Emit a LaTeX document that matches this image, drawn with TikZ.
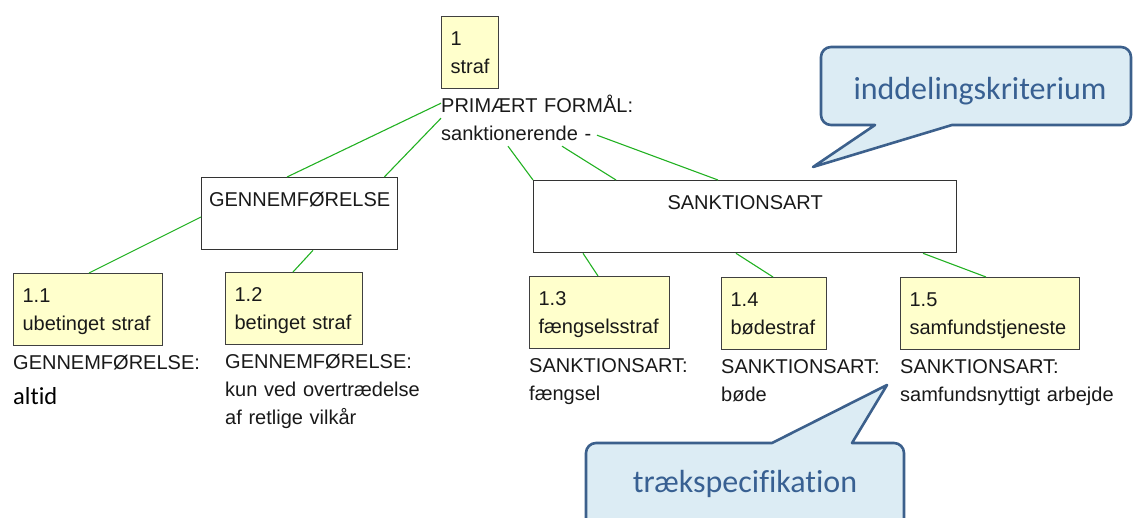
\documentclass[tikz,border=0pt]{standalone}
\usepackage{fontspec}
\setmainfont{Liberation Sans}
\newfontfamily\calib[Ligatures=NoCommon]{Carlito}
\usepackage{tikz}
\usetikzlibrary{positioning}

\definecolor{termfill}{RGB}{255,255,204}
\definecolor{termline}{RGB}{64,64,64}
\definecolor{linkgreen}{RGB}{34,177,34}
\definecolor{notefill}{RGB}{220,236,244}
\definecolor{noteline}{RGB}{60,96,140}
\definecolor{notetext}{RGB}{56,96,146}

\begin{document}
\begin{tikzpicture}[x=1pt,y=-1pt,font=\fontsize{20}{28}\selectfont,
                    every node/.style={text=black!90}]
  \tikzstyle{term}=[draw=termline,fill=termfill,line width=1.2pt,anchor=north west,
                    align=left,inner xsep=9pt,inner ysep=8pt,minimum height=72pt,
                    execute at begin node={\rule{0pt}{21pt}},
                    execute at end node={\rule[-7pt]{0pt}{7pt}}]
  \tikzstyle{group}=[draw=black!80,line width=1.3pt,anchor=north west,
                     inner ysep=9pt,text height=20pt,text depth=34pt]
  \tikzstyle{tag}=[anchor=north west,inner sep=0pt,align=left,text width=250pt,
                   execute at begin node={\rule{0pt}{21pt}}]
  \tikzstyle{link}=[draw=linkgreen,line width=1.1pt]
  \tikzstyle{note}=[draw=noteline,fill=notefill,line width=2.6pt,line join=round]
  \tikzstyle{notetext}=[anchor=base,text=notetext,font=\calib\fontsize{32}{38}\selectfont]

  \useasboundingbox (0,0) rectangle (1134,518);

  \node[term,text width=39pt]  (b1)   at (441,16)  {1\\straf};            % rod
  \node[tag] (prim) [below right=2pt and 0pt of b1.south west] {PRIMÆRT FORMÅL:\\sanktionerende -};
  \node[group,minimum width=196pt] (gen)  at (201,177) {GENNEMFØRELSE};
  \node[group,minimum width=423pt] (sank) at (533,180) {SANKTIONSART};

  \node[term,text width=131pt] (b11)  at (13,273)  {1.1\\ubetinget straf};
  \node[term,text width=119pt] (b12)  at (225,272) {1.2\\betinget straf};
  \node[term,text width=122pt] (b13)  at (529,276) {1.3\\fængselsstraf};
  \node[term,text width=87pt]  (b14)  at (721,277) {1.4\\bødestraf};
  \node[term,text width=161pt] (b15)  at (900,277) {1.5\\samfundstjeneste};

  % trækspecifikationer
  \node[tag] (t11) [below right=2pt and 0pt of b11.south west]
        {GENNEMFØRELSE:\\[7pt]{\calib\fontsize{24.5}{29}\selectfont\color{black} altid}};
  \node[tag] (t12) [below right=2pt and 0pt of b12.south west]
        {GENNEMFØRELSE:\\kun ved overtrædelse\\af retlige vilkår};
  \node[tag] (t13) [below right=2pt and 0pt of b13.south west] {SANKTIONSART:\\fængsel};
  \node[tag] (t14) [below right=2pt and 0pt of b14.south west] {SANKTIONSART:\\bøde};
  \node[tag] (t15) [below right=2pt and 0pt of b15.south west] {SANKTIONSART:\\samfundsnyttigt arbejde};

  \path[link] ([yshift=-12pt]prim.north west)             edge ([xshift=86pt]gen.north west)
              ([yshift=-27pt]prim.north west)             edge ([xshift=-14pt]gen.north east)
              ([xshift=67pt,yshift=-55pt]prim.north west)  edge (sank.north west)
              ([xshift=121pt,yshift=-55pt]prim.north west) edge ([xshift=83pt]sank.north west)
              ([xshift=156pt,yshift=-44pt]prim.north west) edge ([xshift=185pt]sank.north west)
              ([yshift=-40pt]gen.north west)               edge ([xshift=76pt]b11.north west)
              ([xshift=112pt]gen.south west)               edge ([xshift=68pt]b12.north west)
              ([xshift=50pt]sank.south west)               edge ([xshift=69pt]b13.north west)
              ([xshift=203pt]sank.south west)              edge ([xshift=52pt]b14.north west)
              ([xshift=390pt]sank.south west)              edge ([xshift=86pt]b15.north west)
              ;

  % talebobler
  \draw[note] (976,47) [rounded corners=10pt] -- (821,47) -- (821,125) -- (860,125)
              [sharp corners] -- (875,125) -- (813,167) -- (952,125) -- (965,125)
              [rounded corners=10pt] -- (1131,125) -- (1131,47) -- cycle;
  \node[notetext] (crit) at (980,100) {inddelingskriterium};

  \draw[note] (745,528) [rounded corners=10pt] -- (586,528) -- (586,443) -- (760,443)
              [sharp corners] -- (772,443) -- (887,385) -- (852,443) -- (865,443)
              [rounded corners=10pt] -- (904,443) -- (904,528) -- cycle;
  \node[notetext] (spec) at (745,492) {trækspecifikation};
\end{tikzpicture}
\end{document}
